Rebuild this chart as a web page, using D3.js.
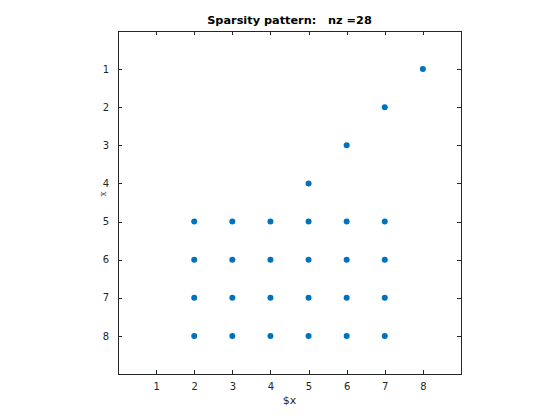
<!DOCTYPE html>
<html><head><meta charset="utf-8">
<script src="https://cdn.jsdelivr.net/npm/d3@7"></script>
<style>body{margin:0;background:#fff}svg{display:block}</style>
</head><body>
<svg id="c" width="560" height="420"></svg>
<script>
const rows = [1,2,3,4,5,5,5,5,5,5,6,6,6,6,6,6,7,7,7,7,7,7,8,8,8,8,8,8];
const cols = [8,7,6,5,2,3,4,5,6,7,2,3,4,5,6,7,2,3,4,5,6,7,2,3,4,5,6,7];
const xTicks = [1,2,3,4,5,6,7,8];
const yTicks = [1,2,3,4,5,6,7,8];
const titleText = "Sparsity pattern:   nz =28";
const xLabel = "$x";
const yLabel = "x";

const svg = d3.select("#c");
const L=118, R=461, T=31, B=374;
const x = d3.scaleLinear().domain([0,9]).range([L,R]);
const y = d3.scaleLinear().domain([0,9]).range([T,B]);
const col = "#262626";

svg.append("rect").attr("x",L).attr("y",T).attr("width",R-L).attr("height",B-T)
  .attr("fill","#fff").attr("stroke",col).attr("stroke-width",1).attr("shape-rendering","crispEdges");

const fmt = d3.format("d");
const ax = svg.append("g").attr("transform",`translate(0,${B})`)
  .call(d3.axisBottom(x).tickValues(xTicks).tickFormat(fmt).tickSizeInner(-4).tickSizeOuter(0).tickPadding(9));
const axT = svg.append("g").attr("transform",`translate(0,${T})`)
  .call(d3.axisTop(x).tickValues(xTicks).tickFormat("").tickSizeInner(-4).tickSizeOuter(0));
const ay = svg.append("g").attr("transform",`translate(${L},0)`)
  .call(d3.axisLeft(y).tickValues(yTicks).tickFormat(fmt).tickSizeInner(-4).tickSizeOuter(0).tickPadding(9));
const ayR = svg.append("g").attr("transform",`translate(${R},0)`)
  .call(d3.axisRight(y).tickValues(yTicks).tickFormat("").tickSizeInner(-4).tickSizeOuter(0));
[ax,axT,ay,ayR].forEach(g=>{
  g.select(".domain").remove();
  g.selectAll("line").attr("stroke",col).attr("shape-rendering","crispEdges");
  g.selectAll("text").attr("fill",col).style("font-family","DejaVu Sans, sans-serif").style("font-size","10px");
});

svg.append("g").selectAll("circle").data(rows.map((r,i)=>({r,c:cols[i]}))).join("circle")
  .attr("cx",d=>x(d.c)).attr("cy",d=>y(d.r)).attr("r",3).attr("fill","#0072BD");

svg.append("text").attr("x",(L+R)/2).attr("y",24).attr("text-anchor","middle")
  .attr("fill","#000").style("font-family","DejaVu Sans, sans-serif").style("font-size","11.3px").style("font-weight","bold")
  .style("white-space","pre").attr("xml:space","preserve").text(titleText);
svg.append("text").attr("x",(L+R)/2).attr("y",404).attr("text-anchor","middle")
  .attr("fill",col).style("font-family","DejaVu Sans, sans-serif").style("font-size","11px").text(xLabel);
svg.append("text").attr("transform",`translate(106,194) rotate(-90)`).attr("text-anchor","middle")
  .attr("fill","#555").style("font-family","DejaVu Serif, serif").style("font-size","9px").text(yLabel);
</script>
</body></html>
